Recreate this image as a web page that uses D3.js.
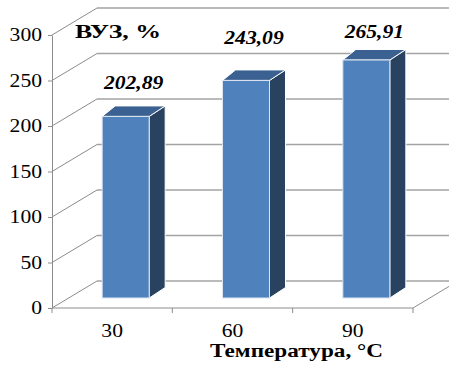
<!DOCTYPE html>
<html>
<head>
<meta charset="utf-8">
<script src="https://cdn.jsdelivr.net/npm/d3@7"></script>
<style>
html,body{margin:0;padding:0;background:#fff;}
svg{display:block;}
</style>
</head>
<body>
<svg id="chart" width="449" height="365"></svg>
<script>
const categories = ["30", "60", "90"];
const values = [202.89, 243.09, 265.91];
const valueLabels = ["202,89", "243,09", "265,91"];
const yTicks = [0, 50, 100, 150, 200, 250, 300];
const yTitle = "ВУЗ, %";
const xTitle = "Температура, °С";

// layout: how far each data label sits above its bar (px)
const labelLift = [27, 36, 22];

const FONT = "Liberation Serif";
const svg = d3.select("#chart");
const SX = 1.2; // horizontal stretch of text

const x = d3.scaleBand().domain(categories).range([52, 413]).padding(0);
const y = d3.scaleLinear().domain([0, 300]).range([308, 35]);
const barY = d3.scaleLinear().domain([0, 300]).range([298, 29.5]);

const DX = 45, DY = -27;
const BDX = 16, BDY = -10.5;
const BW = 47;

const grid = svg.append("g");
yTicks.forEach(v => {
  const yy = y(v);
  grid.append("line").attr("x1", 52).attr("y1", yy).attr("x2", 52 + DX).attr("y2", yy + DY)
    .attr("stroke", "#8c8c8c").attr("stroke-width", 1);
  grid.append("line").attr("x1", 52 + DX).attr("y1", yy + DY).attr("x2", 470).attr("y2", yy + DY)
    .attr("stroke", "#a3a3a3").attr("stroke-width", 1.3);
});

const floorG = svg.append("g").attr("stroke", "#8c8c8c").attr("stroke-width", 1);
floorG.append("line").attr("x1", 52).attr("y1", y(0)).attr("x2", 413).attr("y2", y(0));
floorG.append("line").attr("x1", 413).attr("y1", y(0)).attr("x2", 413 + DX).attr("y2", y(0) + DY);
const edges = categories.map(c => x(c)).concat([x(categories[categories.length - 1]) + x.bandwidth()]);
edges.forEach(e => {
  floorG.append("line").attr("x1", e).attr("y1", y(0)).attr("x2", e).attr("y2", y(0) + 5);
});

const yAxis = d3.axisLeft(y).tickValues(yTicks).tickSize(4).tickSizeOuter(0).tickPadding(6);
const ag = svg.append("g").attr("transform", "translate(52,0)").call(yAxis);
ag.attr("font-family", FONT).attr("font-size", 18);
ag.select(".domain").attr("stroke", "#8c8c8c");
ag.selectAll(".tick line").attr("stroke", "#8c8c8c");
ag.selectAll(".tick text")
  .attr("font-family", FONT).attr("font-size", 18).attr("fill", "#000")
  .each(function() {
    const t = d3.select(this);
    const xx = +t.attr("x");
    t.attr("x", 0).attr("transform", `translate(${xx},0) scale(${SX},1)`);
  });

const bars = svg.append("g");
categories.forEach((c, i) => {
  const cx = x(c) + x.bandwidth() / 2 + 13.5;
  const xl = cx - BW / 2, xr = cx + BW / 2;
  const t = barY(values[i]), b = barY(0);
  const g = bars.append("g");
  g.append("path")
    .attr("d", `M${xr},${t} L${xr + BDX},${t + BDY} L${xr + BDX},${b + BDY} L${xr},${b} Z`)
    .attr("fill", "#29425f").attr("stroke", "#fff").attr("stroke-width", 1).attr("stroke-linejoin", "round");
  g.append("path")
    .attr("d", `M${xl},${t} L${xr},${t} L${xr + BDX},${t + BDY} L${xl + BDX - 3},${t + BDY} Z`)
    .attr("fill", "#3a6191").attr("stroke", "#fff").attr("stroke-width", 1).attr("stroke-linejoin", "round");
  g.append("rect")
    .attr("x", xl).attr("y", t).attr("width", BW).attr("height", b - t)
    .attr("fill", "#4f81bd").attr("stroke", "#dce6f2").attr("stroke-width", 1);
  g.append("text")
    .attr("transform", `translate(${cx + 8},${t - labelLift[i]}) scale(${SX},1)`)
    .attr("text-anchor", "middle")
    .attr("font-family", FONT).attr("font-size", 18)
    .attr("font-weight", "bold").attr("font-style", "italic")
    .attr("fill", "#000")
    .text(valueLabels[i]);
});

categories.forEach(c => {
  svg.append("text")
    .attr("transform", `translate(${x(c) + x.bandwidth() / 2},337) scale(${SX},1)`)
    .attr("text-anchor", "middle")
    .attr("font-family", FONT).attr("font-size", 18).attr("fill", "#000")
    .text(c);
});

svg.append("text")
  .attr("x", 75).attr("y", 38)
  .attr("font-family", FONT).attr("font-size", 18).attr("font-weight", "bold")
  .attr("textLength", 86).attr("lengthAdjust", "spacingAndGlyphs")
  .attr("fill", "#000").text(yTitle);

svg.append("text")
  .attr("x", 210).attr("y", 357)
  .attr("font-family", FONT).attr("font-size", 18).attr("font-weight", "bold")
  .attr("textLength", 173).attr("lengthAdjust", "spacingAndGlyphs")
  .attr("fill", "#000").text(xTitle);
</script>
</body>
</html>
